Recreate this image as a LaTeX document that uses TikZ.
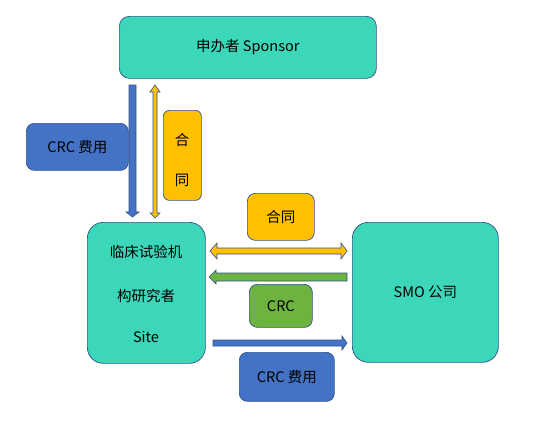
\documentclass[tikz,border=0pt]{standalone}
\usepackage{fontspec}
\setmainfont{Noto Sans CJK SC}
\usetikzlibrary{calc}
\definecolor{teal1}{HTML}{3CD7B8}
\definecolor{blue1}{HTML}{4472C4}
\definecolor{yellow1}{HTML}{FFC000}
\definecolor{green1}{HTML}{6DB33F}
\definecolor{edge1}{HTML}{2F528F}
\tikzset{
  box/.style={draw=edge1, line width=0.7pt, rounded corners=#1, anchor=north west, inner sep=0pt, font=\fontsize{14.5pt}{17pt}\selectfont},
  box/.default=8pt,
  blockarrow/.style={draw=edge1, line width=0.6pt, fill=#1},
  txt/.style={font=\fontsize{14.5pt}{17pt}\selectfont, inner sep=0pt}
}
\begin{document}
\begin{tikzpicture}[x=1pt,y=-1pt]
\useasboundingbox (0,0) rectangle (559,426);
% boxes
\node[box=10pt, fill=teal1, minimum width=257pt, minimum height=62pt] (sponsor) at (119,16) {申办者 Sponsor};
\node[box=8pt, fill=blue1, minimum width=102pt, minimum height=47pt] (fee1) at (26,123) {CRC 费用};
\node[box=6pt, fill=yellow1, minimum width=38pt, minimum height=90pt] (ht1) at (163,110) {};
\node[txt] (ht1a) at (182,140) {合};
\node[txt] (ht1b) at (182,180) {同};
\node[box=16pt, fill=teal1, minimum width=118pt, minimum height=141pt] (site) at (87,222) {};
\node[txt] (s1) at (146,252) {临床试验机};
\node[txt] (s2) at (146,296) {构研究者};
\node[txt] (s3) at (146,337) {Site};
\node[box=16pt, fill=teal1, minimum width=146pt, minimum height=140pt] (smo) at (352,222) {SMO 公司};
\node[box=8pt, fill=yellow1, minimum width=67pt, minimum height=47pt] (ht2) at (247,193) {合同};
\node[box=8pt, fill=green1, minimum width=63pt, minimum height=43pt] (crc) at (249,284) {\raisebox{-6pt}{CRC}};
\node[box=8pt, fill=blue1, minimum width=95pt, minimum height=49pt] (fee2) at (239,352) {CRC 费用};
% arrows
% blue down
\draw[blockarrow=blue1] (129,85) -- (136,85) -- (136,212) -- (139,212) -- (132.5,217) -- (126,212) -- (129,212) -- cycle;
% yellow vertical double
\draw[blockarrow=yellow1] (155,85) -- (160,92) -- (157,92) -- (157,213) -- (160,213) -- (155,218) -- (150,213) -- (153,213) -- (153,92) -- (150,92) -- cycle;
% yellow horizontal double
\draw[blockarrow=yellow1] (210,251) -- (217,243) -- (217,248) -- (341,248) -- (341,243) -- (347,251) -- (341,259) -- (341,254) -- (217,254) -- (217,259) -- cycle;
% green leftward
\draw[blockarrow=green1] (209,277) -- (216,270) -- (216,273) -- (347,273) -- (347,281) -- (216,281) -- (216,284) -- cycle;
% blue rightward
\draw[blockarrow=blue1] (213,340) -- (342,340) -- (342,336) -- (347,343) -- (342,350) -- (342,346) -- (213,346) -- cycle;
\end{tikzpicture}
\end{document}
